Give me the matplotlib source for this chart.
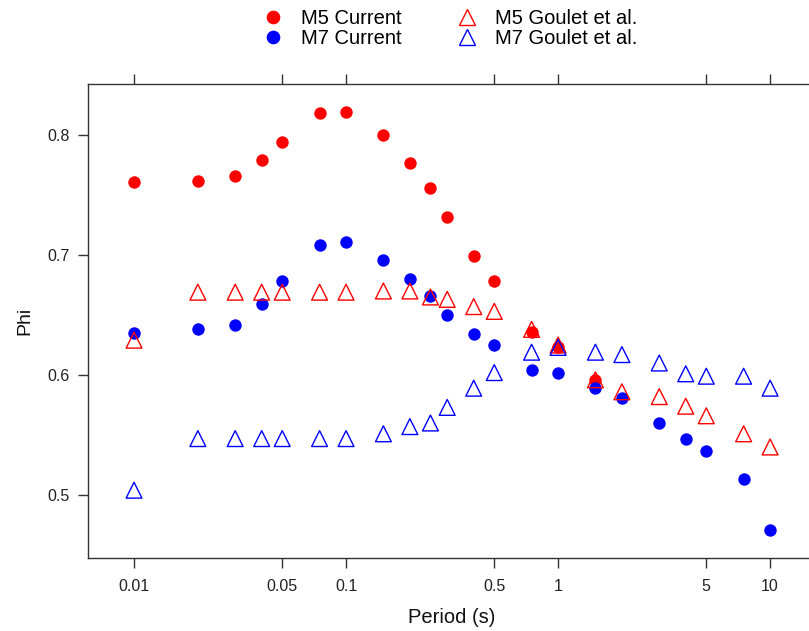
import numpy as np
import matplotlib.pyplot as plt
from matplotlib.lines import Line2D

plt.rcParams['font.family'] = ['Liberation Sans', 'DejaVu Sans']

periods = [0.01, 0.02, 0.03, 0.04, 0.05, 0.075, 0.1, 0.15, 0.2, 0.25, 0.3,
           0.4, 0.5, 0.75, 1, 1.5, 2, 3, 4, 5, 7.5, 10]

m5_current = [0.761, 0.762, 0.766, 0.779, 0.794, 0.818, 0.819, 0.800, 0.777,
              0.756, 0.732, 0.699, 0.678, 0.636, 0.623, 0.596]
m7_current = [0.635, 0.638, 0.642, 0.659, 0.678, 0.708, 0.711, 0.696, 0.680,
              0.666, 0.650, 0.634, 0.625, 0.604, 0.602, 0.589, 0.581, 0.560,
              0.547, 0.537, 0.513, 0.471]
m5_goulet = [0.629, 0.669, 0.669, 0.669, 0.669, 0.669, 0.669, 0.670, 0.670,
             0.665, 0.663, 0.657, 0.653, 0.638, 0.625, 0.596, 0.586, 0.582,
             0.574, 0.566, 0.551, 0.540]
m7_goulet = [0.504, 0.547, 0.547, 0.547, 0.547, 0.547, 0.547, 0.551, 0.557,
             0.560, 0.573, 0.589, 0.602, 0.619, 0.623, 0.619, 0.617, 0.610,
             0.601, 0.599, 0.599, 0.589]

xticks = [0.01, 0.05, 0.1, 0.5, 1, 5, 10]
xticklabels = ['0.01', '0.05', '0.1', '0.5', '1', '5', '10']
yticks = [0.5, 0.6, 0.7, 0.8]

fig = plt.figure(figsize=(8.09, 6.31), dpi=100)
ax = fig.add_axes([0.1088, 0.1157, 0.900, 0.7512])

ax.scatter(periods[:len(m5_current)], m5_current, s=80, color='#ff0000', lw=0, zorder=3)
ax.scatter(periods, m7_current, s=80, color='#0000ff', lw=0, zorder=3)
ax.scatter(periods, m5_goulet, s=130, marker='^', facecolors='none',
           edgecolors='#ff0000', linewidths=1.0, zorder=4)
ax.scatter(periods, m7_goulet, s=130, marker='^', facecolors='none',
           edgecolors='#0000ff', linewidths=1.0, zorder=4)

ax.set_xscale('log')
ax.set_xlim(10 ** -2.217, 10 ** 1.217)
ax.set_ylim(0.4475, 0.8425)

ax.set_xticks(xticks)
ax.set_xticklabels(xticklabels)
ax.xaxis.set_minor_locator(plt.NullLocator())
ax.set_yticks(yticks)
ax.set_yticklabels(['0.5', '0.6', '0.7', '0.8'])
ax.tick_params(axis='x', which='both', top=True, labeltop=False, direction='out',
               length=7, width=1, color='#333333', labelcolor='#222222',
               labelsize=11.5, pad=8)
ax.tick_params(axis='y', right=False, direction='out', length=7, width=1,
               color='#333333', labelcolor='#222222', labelsize=11.5, pad=6)

for side in ['left', 'bottom', 'top']:
    ax.spines[side].set_color('#333333')
    ax.spines[side].set_linewidth(1.0)
ax.spines['right'].set_visible(False)

ax.set_xlabel('Period (s)', fontsize=14.5, labelpad=10, color='#111111')
ax.set_ylabel('Phi', fontsize=14, labelpad=10, color='#111111')

handles = [
    Line2D([], [], ls='none', marker='o', ms=8.8, mfc='#ff0000', mec='#ff0000'),
    Line2D([], [], ls='none', marker='o', ms=8.8, mfc='#0000ff', mec='#0000ff'),
    Line2D([], [], ls='none', marker='^', ms=11, mfc='none', mec='#ff0000'),
    Line2D([], [], ls='none', marker='^', ms=11, mfc='none', mec='#0000ff'),
]
labels = ['M5 Current', 'M7 Current', 'M5 Goulet et al.', 'M7 Goulet et al.']
fig.legend(handles, labels, ncol=2, loc='upper left', bbox_to_anchor=(0.325, 0.986),
           frameon=False, fontsize=14.5, handletextpad=0.9, columnspacing=2.75,
           labelspacing=0.05, handlelength=1.0, borderpad=0, borderaxespad=0)

fig.savefig('out.png', dpi=100)
